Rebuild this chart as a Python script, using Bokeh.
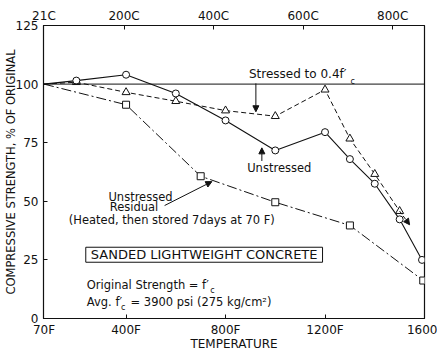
import math
from bokeh.plotting import figure
from bokeh.models import (LinearAxis, FixedTicker, Label, Arrow, NormalHead,
                          BoxAnnotation, Span, Range1d)
from bokeh.embed import file_html
from bokeh.resources import INLINE

# ---------------- data ----------------
temp_unstressed = [70, 200, 400, 600, 800, 1000, 1200, 1300, 1400, 1500, 1590]
strength_unstressed = [100, 101.5, 104, 96, 84.5, 71.7, 79.5, 68, 57.5, 42.3, 25]

temp_stressed = [70, 200, 400, 600, 800, 1000, 1200, 1300, 1400, 1500]
strength_stressed = [100, 100.8, 96.5, 92.7, 88.7, 86.3, 97.6, 76.7, 61.6, 45.8]
stressed_failure_arrow = [1540, 40]  # arrow tip after last stressed point

temp_residual = [70, 400, 700, 1000, 1300, 1595]
strength_residual = [100, 91.2, 60.7, 49.6, 39.7, 16.2]

x_ticks_f = [70, 400, 800, 1200, 1600]
x_tick_labels_f = ["70F", "400F", "800F", "1200F", "1600"]
x_ticks_c = [21, 200, 400, 600, 800]
x_tick_labels_c = ["21C", "200C", "400C", "600C", "800C"]
y_ticks = [0, 25, 50, 75, 100, 125]
y_tick_labels = ["0", "25", "50", "75", "100", "125"]

FONT = "DejaVu Sans"
INK = "#111111"

p = figure(width=437, height=353, output_backend="svg", toolbar_location=None,
           x_range=Range1d(68, 1600), y_range=Range1d(0, 125),
           min_border_left=43, min_border_right=13, min_border_top=25,
           min_border_bottom=35)
p.background_fill_color = "white"
p.border_fill_color = "white"
p.outline_line_color = INK
p.outline_line_width = 1.2
p.xgrid.visible = False
p.ygrid.visible = False

def style_axis(ax, size="12px"):
    ax.axis_line_color = INK
    ax.major_tick_line_color = INK
    ax.major_tick_in = 4
    ax.major_tick_out = 0
    ax.minor_tick_line_color = None
    ax.major_label_text_font = FONT
    ax.major_label_text_font_size = size
    ax.major_label_text_color = INK
    ax.axis_label_text_font = FONT
    ax.axis_label_text_font_style = "normal"
    ax.axis_label_text_color = INK

# bottom axis (Fahrenheit)
xa = p.xaxis[0]
style_axis(xa)
xa.ticker = FixedTicker(ticks=x_ticks_f)
xa.major_label_overrides = {t: l for t, l in zip(x_ticks_f, x_tick_labels_f)}
xa.major_label_standoff = 4
xa.axis_label = "TEMPERATURE"
xa.axis_label_text_font_size = "12px"
xa.axis_label_standoff = -3

# left axis
ya = p.yaxis[0]
style_axis(ya)
ya.ticker = FixedTicker(ticks=y_ticks)
ya.major_label_overrides = {t: l for t, l in zip(y_ticks, y_tick_labels)}
ya.major_label_standoff = 5
ya.axis_label = "COMPRESSIVE STRENGTH, % OF ORIGINAL"
ya.axis_label_text_font_size = "11.5px"
ya.axis_label_standoff = -5

# top axis (Celsius)
c_pos = [c * 9 / 5 + 32 for c in x_ticks_c]
top = LinearAxis(ticker=FixedTicker(ticks=c_pos))
style_axis(top)
top.major_label_overrides = {t: l for t, l in zip(c_pos, x_tick_labels_c)}
top.major_label_standoff = 3
p.add_layout(top, "above")

# reference line at 100 %
p.add_layout(Span(location=100, dimension="width", line_color=INK, line_width=1))

# series
p.line(temp_residual, strength_residual, line_color=INK, line_width=1,
       line_dash="10 3 2 3")
p.line(temp_stressed, strength_stressed, line_color=INK, line_width=1,
       line_dash="5 3")
p.line(temp_unstressed, strength_unstressed, line_color=INK, line_width=1.1)

p.scatter(temp_residual[1:], strength_residual[1:], marker="square", size=7,
          fill_color="white", line_color=INK, line_width=1)
p.scatter(temp_stressed[1:], strength_stressed[1:], marker="triangle", size=8,
          fill_color="white", line_color=INK, line_width=1)
p.scatter(temp_unstressed[1:], strength_unstressed[1:], marker="circle", size=7,
          fill_color="white", line_color=INK, line_width=1)

head = lambda: NormalHead(size=6, fill_color=INK, line_color=INK)
p.add_layout(Arrow(end=head(), x_start=temp_stressed[-1], y_start=strength_stressed[-1],
                   x_end=stressed_failure_arrow[0], y_end=stressed_failure_arrow[1],
                   line_color=INK, line_width=1, line_dash="4 2"))

# annotations
def lab(x, y, text, size="11.5px", align="left", angle=0):
    p.add_layout(Label(x=x, y=y, text=text, text_font=FONT, text_font_size=size,
                       text_color=INK, text_align=align, text_baseline="middle",
                       angle=angle))

lab(894, 104.5, "Stressed to 0.4f\u2032", size="12px")
lab(1302, 101.2, "c", size="8px")
p.add_layout(Arrow(end=head(), x_start=922, y_start=100.3, x_end=922, y_end=88.2,
                   line_color=INK, line_width=1))

lab(1016, 64.4, "Unstressed", align="center")
p.add_layout(Arrow(end=head(), x_start=946, y_start=67.2, x_end=946, y_end=72.8,
                   line_color=INK, line_width=1))

lab(458, 51.7, "Unstressed", align="center")
lab(432, 47.5, "Residual", align="center")
lab(584, 42.2, "(Heated, then stored 7days at 70 F)", align="center")
p.add_layout(Arrow(end=head(), x_start=555, y_start=48.2, x_end=745, y_end=58.4,
                   line_color=INK, line_width=1))

p.add_layout(BoxAnnotation(left=238, right=1190, bottom=24.0, top=30.4,
                           fill_alpha=0, line_color=INK, line_alpha=1,
                           line_width=1))
lab(714, 27.2, "SANDED LIGHTWEIGHT CONCRETE", size="13px", align="center")

lab(242, 14.1, "Original Strength = f\u2032")
lab(738, 11.9, "c", size="8px")
lab(242, 7.0, "Avg. f\u2032")
lab(380, 4.7, "c", size="8px")
lab(418, 7.0, "= 3900 psi (275 kg/cm\u00b2)")

open("out.html", "w").write(file_html(p, INLINE))
